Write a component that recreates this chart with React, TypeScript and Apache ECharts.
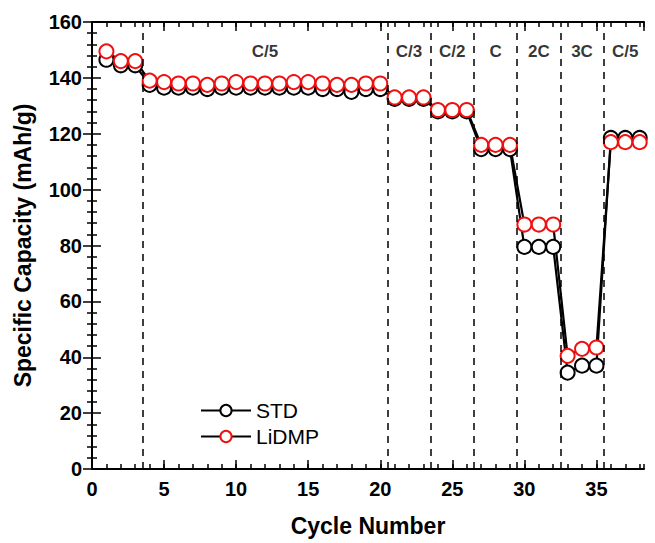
import React, { useEffect, useRef } from "react";
import * as echarts from "echarts";

const cycles = Array.from({ length: 38 }, (_, i) => i + 1);
const stdValues = [
  146.5, 144.5, 144.5, 137.5, 136.5, 136.5, 136.5, 136, 136.5, 136.5,
  136.5, 136.5, 136.5, 136.5, 136.5, 136, 136, 135, 136, 136,
  132.5, 132.5, 132.5, 128, 128, 128, 114.5, 114.5, 114.5, 79.5,
  79.5, 79.5, 34.5, 37, 37, 118.5, 118.5, 118.5,
];
const lidmpValues = [
  149.5, 146, 146, 139, 138.5, 138, 138, 137.5, 138, 138.5,
  138, 138, 138, 138.5, 138.5, 138, 137.5, 137.5, 138, 138,
  133, 133, 133, 128.5, 128.5, 128.5, 116, 116, 116, 87.5,
  87.5, 87.5, 40.5, 43, 43.5, 117, 117, 117,
];
const rateBoundaries = [3.5, 20.5, 23.5, 26.5, 29.5, 32.5, 35.5];
const rateLabels = ["C/5", "C/3", "C/2", "C", "2C", "3C", "C/5"];
const rateLabelX = [12, 22, 25, 28, 31, 34, 37];
const rateLabelY = 149.5;
const xMax = 38.3;

const FONT = "Liberation Sans, Arial, sans-serif";

export default function App() {
  const ref = useRef<HTMLDivElement>(null);
  useEffect(() => {
    document.body.style.margin = "0";
    if (!ref.current) return;
    const chart = echarts.init(ref.current, undefined, { renderer: "svg" });
    const axisLine = { show: true, lineStyle: { color: "#000", width: 2 } };
    const majorTick = { show: true, inside: true, length: 9, lineStyle: { color: "#000", width: 1.5 } };
    const minorTickX = { show: true, inside: true, length: 5, lineStyle: { color: "#000", width: 1.5 } };
    const baseX = { type: "value", min: 0, max: xMax, splitLine: { show: false } };
    const baseY = { type: "value", min: 0, max: 160, interval: 20, splitLine: { show: false } };
    chart.setOption({
      animation: false,
      backgroundColor: "#fff",
      textStyle: { fontFamily: FONT },
      grid: { left: 92, right: 11, top: 22, bottom: 74 },
      legend: {
        data: ["STD", "LiDMP"],
        orient: "vertical",
        left: 195,
        top: 395,
        itemWidth: 50,
        itemHeight: 14,
        itemGap: 5,
        textStyle: { fontFamily: FONT, fontSize: 21, color: "#000" },
      },
      xAxis: [
        {
          ...baseX,
          position: "bottom",
          interval: 5,
          axisLine,
          axisTick: majorTick,
          axisLabel: { fontFamily: FONT, fontSize: 20, fontWeight: "bold", color: "#000", margin: 10, showMaxLabel: false },
          name: "Cycle Number",
          nameLocation: "middle",
          nameGap: 45,
          nameTextStyle: { fontFamily: FONT, fontSize: 23, fontWeight: "bold", color: "#000" },
        },
        {
          ...baseX,
          position: "bottom",
          interval: 1,
          axisLine: { show: false },
          axisTick: minorTickX,
          axisLabel: { show: false },
        },
        {
          ...baseX,
          position: "top",
          interval: 5,
          axisLine,
          axisTick: majorTick,
          axisLabel: { show: false },
        },
        {
          ...baseX,
          position: "top",
          interval: 1,
          axisLine: { show: false },
          axisTick: minorTickX,
          axisLabel: { show: false },
        },
      ],
      yAxis: [
        {
          ...baseY,
          position: "left",
          axisLine,
          axisTick: majorTick,
          minorTick: { show: true, splitNumber: 5, length: 5, lineStyle: { color: "#000", width: 1.5 } },
          axisLabel: { fontFamily: FONT, fontSize: 20, fontWeight: "bold", color: "#000", margin: 10 },
          name: "Specific Capacity (mAh/g)",
          nameLocation: "middle",
          nameGap: 58,
          nameRotate: 90,
          nameTextStyle: { fontFamily: FONT, fontSize: 23, fontWeight: "bold", color: "#000" },
        },
        {
          ...baseY,
          position: "right",
          axisLine,
          axisTick: majorTick,
          minorTick: { show: true, splitNumber: 5, length: 5, lineStyle: { color: "#000", width: 1.5 } },
          axisLabel: { show: false },
        },
      ],
      series: [
        {
          name: "rates",
          type: "scatter",
          xAxisIndex: 0,
          yAxisIndex: 0,
          symbolSize: 0,
          silent: true,
          data: rateLabels.map((n, i) => ({ name: n, value: [rateLabelX[i], rateLabelY] })),
          label: {
            show: true,
            position: "inside",
            formatter: (p: any) => p.name,
            fontFamily: FONT,
            fontSize: 17,
            fontWeight: "bold",
            color: "#000",
          },
          markLine: {
            silent: true,
            symbol: "none",
            label: { show: false },
            lineStyle: { color: "#000", width: 1.5, type: [7, 6] },
            data: rateBoundaries.map((x) => ({ xAxis: x })),
          },
        },
        {
          name: "STD",
          type: "line",
          xAxisIndex: 0,
          yAxisIndex: 0,
          data: cycles.map((c, i) => [c, stdValues[i]]),
          symbol: "emptyCircle",
          symbolSize: 14,
          lineStyle: { color: "#000", width: 2.2 },
          itemStyle: { color: "#000", borderWidth: 1.8 },
        },
        {
          name: "LiDMP",
          type: "line",
          xAxisIndex: 0,
          yAxisIndex: 0,
          data: cycles.map((c, i) => [c, lidmpValues[i]]),
          symbol: "emptyCircle",
          symbolSize: 14,
          lineStyle: { color: "#000", width: 2.2 },
          itemStyle: { color: "#f01010", borderWidth: 1.8 },
        },
      ],
    });
    return () => chart.dispose();
  }, []);
  return <div ref={ref} style={{ width: 655, height: 543 }} />;
}
